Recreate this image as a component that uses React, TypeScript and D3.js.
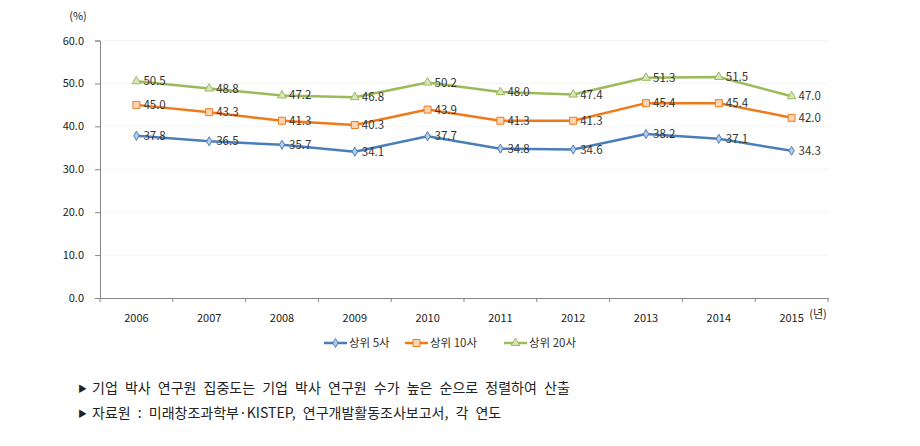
import React, { useEffect, useRef } from 'react';
import * as d3 from 'd3';

const years = ['2006', '2007', '2008', '2009', '2010', '2011', '2012', '2013', '2014', '2015'];
const top5 = [37.8, 36.5, 35.7, 34.1, 37.7, 34.8, 34.6, 38.2, 37.1, 34.3];
const top10 = [45.0, 43.3, 41.3, 40.3, 43.9, 41.3, 41.3, 45.4, 45.4, 42.0];
const top20 = [50.5, 48.8, 47.2, 46.8, 50.2, 48.0, 47.4, 51.3, 51.5, 47.0];
const seriesNames = ['상위 5사', '상위 10사', '상위 20사'];
const yTicks = [0, 10, 20, 30, 40, 50, 60];
const notes = [
  '기업 박사 연구원 집중도는 기업 박사 연구원 수가 높은 순으로 정렬하여 산출',
  '자료원 : 미래창조과학부·KISTEP, 연구개발활동조사보고서, 각 연도',
];

const FONT = '"Noto Sans CJK KR", "Noto Sans", sans-serif';

const App: React.FC = () => {
  const svgRef = useRef<SVGSVGElement>(null);

  useEffect(() => {
    if (!svgRef.current) return;
    const svg = d3.select(svgRef.current);
    svg.selectAll('*').remove();

    const left = 100, right = 828, top = 40.5, bottom = 298;
    const x = d3.scaleBand<string>().domain(years).range([left, right]);
    const y = d3.scaleLinear().domain([0, 60]).range([bottom, top]);
    const cx = (d: string) => (x(d) as number) + x.bandwidth() / 2;

    const series = [
      { name: seriesNames[0], values: top5, stroke: '#4a7ebb', fill: '#b9cde5', marker: 'diamond' },
      { name: seriesNames[1], values: top10, stroke: '#ef7a1a', fill: '#fcd5b5', marker: 'square' },
      { name: seriesNames[2], values: top20, stroke: '#9bbb59', fill: '#d7e4bd', marker: 'triangle' },
    ];

    // faint gridlines
    svg.append('g')
      .selectAll('line')
      .data(yTicks.slice(1))
      .join('line')
      .attr('x1', left + 4).attr('x2', right)
      .attr('y1', d => y(d)).attr('y2', d => y(d))
      .attr('stroke', '#f4f4f4').attr('stroke-width', 1);

    // y axis
    const yAxis = svg.append('g').attr('transform', `translate(${left},0)`)
      .call(d3.axisLeft(y).tickValues(yTicks).tickSize(5).tickFormat(d => (d as number).toFixed(1)));
    yAxis.select('.domain').attr('stroke', '#868686');
    yAxis.selectAll('.tick line').attr('stroke', '#868686');
    yAxis.selectAll('.tick text').attr('x', -16).attr('fill', '#222')
      .style('font-family', FONT).style('font-size', '11px');

    // x axis
    const xAxis = svg.append('g').attr('transform', `translate(0,${bottom})`)
      .call(d3.axisBottom(x).tickSize(0));
    xAxis.select('.domain').attr('stroke', '#868686');
    xAxis.selectAll('.tick text').attr('y', 16).attr('fill', '#222')
      .style('font-family', FONT).style('font-size', '11px');
    svg.append('g').selectAll('line')
      .data(d3.range(years.length + 1))
      .join('line')
      .attr('x1', i => left + i * x.bandwidth()).attr('x2', i => left + i * x.bandwidth())
      .attr('y1', bottom).attr('y2', bottom + 4)
      .attr('stroke', '#868686');

    svg.append('text').attr('x', 78).attr('y', 20).attr('text-anchor', 'middle')
      .attr('fill', '#222').style('font-family', FONT).style('font-size', '11px').text('(%)');
    svg.append('text').attr('x', 818).attr('y', 318).attr('text-anchor', 'middle')
      .attr('fill', '#222').style('font-family', FONT).style('font-size', '11px').text('(년)');

    const markerPath = (m: string) => {
      if (m === 'diamond') return d3.symbol(d3.symbolDiamond, 24)();
      if (m === 'square') return d3.symbol(d3.symbolSquare, 49)();
      return d3.symbol(d3.symbolTriangle, 32)();
    };

    const line = d3.line<number>()
      .x((_, i) => cx(years[i]))
      .y(d => y(d));

    series.forEach(s => {
      const g = svg.append('g');
      g.append('path').datum(s.values).attr('d', line)
        .attr('fill', 'none').attr('stroke', s.stroke).attr('stroke-width', 2.5)
        .attr('stroke-linejoin', 'round');
      g.selectAll('path.mk').data(s.values).join('path')
        .attr('class', 'mk')
        .attr('d', markerPath(s.marker))
        .attr('transform', (d, i) => `translate(${cx(years[i])},${y(d)})`)
        .attr('fill', s.fill).attr('stroke', s.stroke).attr('stroke-width', 1);
      g.selectAll('text').data(s.values).join('text')
        .attr('x', (_, i) => cx(years[i]) + 7)
        .attr('y', d => y(d))
        .attr('dy', '0.35em')
        .attr('fill', '#333')
        .style('font-family', FONT).style('font-size', '11.5px')
        .text(d => d.toFixed(1));
    });

    // legend
    const legendX = [324, 405, 504];
    series.forEach((s, i) => {
      const g = svg.append('g').attr('transform', `translate(${legendX[i]},343)`);
      g.append('line').attr('x1', 0).attr('x2', 23).attr('y1', 0).attr('y2', 0)
        .attr('stroke', s.stroke).attr('stroke-width', 2.5);
      g.append('path').attr('d', markerPath(s.marker)).attr('transform', 'translate(11.5,0)')
        .attr('fill', s.fill).attr('stroke', s.stroke);
      g.append('text').attr('x', 25).attr('y', 0).attr('dy', '0.35em').attr('fill', '#333')
        .style('font-family', FONT).style('font-size', '11.5px').text(s.name);
    });

    // notes
    notes.forEach((n, i) => {
      const yy = 393 + i * 25;
      svg.append('text').attr('x', 78).attr('y', yy - 1).attr('fill', '#222')
        .style('font-family', FONT).style('font-size', '9px').text('▶');
      svg.append('text').attr('x', 92).attr('y', yy).attr('fill', '#222')
        .style('font-family', FONT).style('font-size', '14px').style('word-spacing', '4px')
        .text(n);
    });
  }, []);

  return (
    <div style={{ position: 'absolute', left: 0, top: 0 }}>
      <svg ref={svgRef} width={920} height={446} style={{ display: 'block', background: '#fff' }} />
    </div>
  );
};

export default App;
